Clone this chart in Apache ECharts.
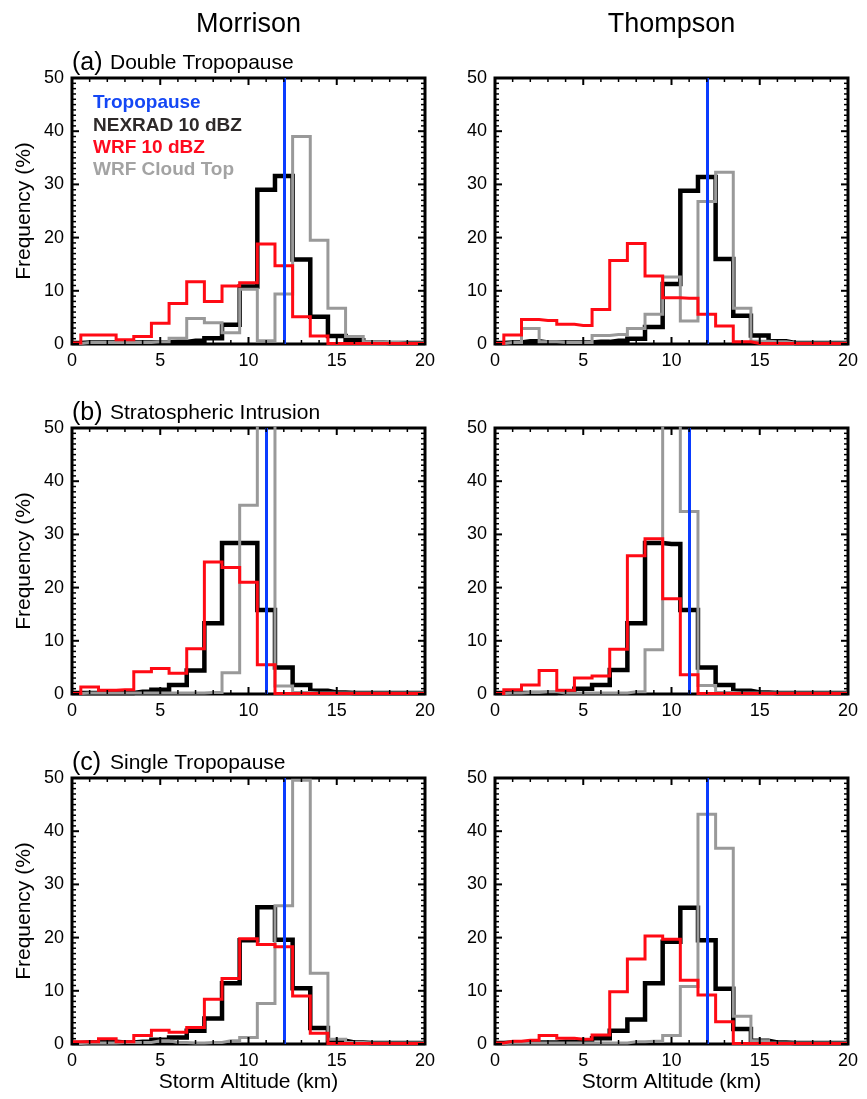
<!DOCTYPE html>
<html>
<head>
<meta charset="utf-8">
<script src="https://cdn.jsdelivr.net/npm/echarts@6/dist/echarts.min.js"></script>
<style>
  html, body { margin: 0; padding: 0; background: #fff; }
  #chart { width: 867px; height: 1099px; }
</style>
</head>
<body>
<div id="chart"></div>
<script>
// Altitude bin centres (km); each bin is 1 km wide
const altitudeBins = [0, 1, 2, 3, 4, 5, 6, 7, 8, 9, 10, 11, 12, 13, 14, 15, 16, 17, 18, 19, 20];
const xTickLabels = [0, 5, 10, 15, 20];
const yTickLabels = [0, 10, 20, 30, 40, 50];
// Tick marks on the frame (minor every 1 unit, major where a label sits)
const xTickMarks = [0, 1, 2, 3, 4, 5, 6, 7, 8, 9, 10, 11, 12, 13, 14, 15, 16, 17, 18, 19, 20];
const yTickMarks = [0, 1, 2, 3, 4, 5, 6, 7, 8, 9, 10, 11, 12, 13, 14, 15, 16, 17, 18, 19, 20,
                    21, 22, 23, 24, 25, 26, 27, 28, 29, 30, 31, 32, 33, 34, 35, 36, 37, 38, 39, 40,
                    41, 42, 43, 44, 45, 46, 47, 48, 49, 50];

const schemes = ['Morrison', 'Thompson'];
const regimeTags = ['(a)', '(b)', '(c)'];
const regimes = ['Double Tropopause', 'Stratospheric Intrusion', 'Single Tropopause'];
const seriesNames = ['Tropopause', 'NEXRAD 10 dBZ', 'WRF 10 dBZ', 'WRF Cloud Top'];

// Tropopause altitude (km) per regime
const tropopause = [12, 11, 12];

// (a) Double Tropopause
const nexradDoubleMorrison = [0.2, 0.3, 0.3, 0.3, 0.3, 0.3, 0.4, 0.6, 1.1, 3.6, 10.8, 29.0, 31.6, 15.9, 5.1, 1.5, 0.7, 0.3, 0.2, 0.2, 0.2];
const wrfDoubleMorrison    = [0.2, 1.7, 1.7, 0.8, 1.4, 3.9, 7.6, 11.7, 8.0, 10.9, 11.5, 18.8, 14.7, 5.1, 1.5, 0.1, 0.1, 0.1, 0.1, 0.1, 0.1];
const cloudDoubleMorrison  = [0.1, 0.3, 0.3, 0.3, 0.3, 0.4, 1.1, 4.8, 4.0, 2.1, 10.3, 0.6, 9.4, 39.0, 19.5, 6.7, 1.4, 0.4, 0.3, 0.2, 0.2];

const nexradDoubleThompson = [0.2, 0.3, 0.5, 0.3, 0.3, 0.3, 0.4, 0.6, 1.0, 3.2, 11.3, 28.8, 31.4, 16.0, 5.3, 1.6, 0.5, 0.2, 0.2, 0.2, 0.2];
const wrfDoubleThompson    = [0.1, 1.7, 4.6, 4.4, 3.7, 3.5, 6.5, 15.7, 18.9, 12.8, 8.7, 8.6, 5.6, 3.4, 0.4, 0.1, 0.1, 0.1, 0.1, 0.1, 0.1];
const cloudDoubleThompson  = [0.1, 0.3, 2.9, 0.4, 0.3, 0.3, 1.6, 1.8, 2.9, 5.6, 12.6, 4.3, 26.8, 32.3, 6.7, 0.5, 0.4, 0.2, 0.2, 0.2, 0.2];

// (b) Stratospheric Intrusion
const nexradIntrusionMorrison = [0.2, 0.2, 0.2, 0.2, 0.4, 0.8, 1.7, 4.4, 13.3, 28.4, 28.4, 15.8, 5.0, 1.7, 0.6, 0.3, 0.2, 0.2, 0.2, 0.2, 0.2];
const wrfIntrusionMorrison    = [0.1, 1.3, 0.7, 0.8, 4.2, 4.8, 3.9, 8.5, 24.8, 23.8, 21.0, 5.5, 0.1, 0.1, 0.1, 0.1, 0.1, 0.1, 0.1, 0.1, 0.1];
const cloudIntrusionMorrison  = [0.1, 0.2, 0.2, 0.2, 0.2, 0.2, 0.2, 0.2, 0.3, 4.0, 35.5, 56.0, 1.5, 0.3, 0.2, 0.2, 0.2, 0.2, 0.2, 0.2, 0.2];

const nexradIntrusionThompson = [0.2, 0.2, 0.2, 0.2, 0.4, 1.0, 1.7, 4.5, 13.3, 28.4, 28.2, 15.8, 5.0, 1.7, 0.6, 0.3, 0.2, 0.2, 0.2, 0.2, 0.2];
const wrfIntrusionThompson    = [0.1, 0.8, 1.7, 4.4, 0.7, 3.0, 3.4, 8.4, 26.0, 29.2, 17.9, 3.6, 0.1, 0.1, 0.1, 0.1, 0.1, 0.1, 0.1, 0.1, 0.1];
const cloudIntrusionThompson  = [0.1, 0.2, 0.3, 0.4, 0.2, 0.2, 0.2, 0.2, 0.4, 8.3, 58.0, 34.3, 1.6, 0.3, 0.2, 0.2, 0.2, 0.2, 0.2, 0.2, 0.2];

// (c) Single Tropopause
const nexradSingleMorrison = [0.2, 0.3, 0.4, 0.3, 0.4, 0.8, 1.2, 2.5, 4.8, 11.4, 19.5, 25.7, 19.6, 10.5, 3.0, 0.6, 0.3, 0.2, 0.2, 0.2, 0.2];
const wrfSingleMorrison    = [0.4, 0.4, 1.0, 0.4, 1.6, 2.6, 2.2, 3.1, 8.4, 12.3, 19.8, 18.7, 18.3, 9.0, 2.0, 0.1, 0.1, 0.1, 0.1, 0.1, 0.1];
const cloudSingleMorrison  = [0.1, 0.2, 0.2, 0.3, 0.3, 0.6, 0.3, 0.2, 0.3, 0.6, 1.2, 7.6, 26.0, 49.6, 13.3, 0.9, 0.3, 0.2, 0.2, 0.2, 0.2];

const nexradSingleThompson = [0.2, 0.3, 0.3, 0.3, 0.4, 0.6, 1.1, 2.5, 4.6, 11.4, 19.2, 25.6, 19.5, 10.4, 2.8, 0.6, 0.3, 0.2, 0.2, 0.2, 0.2];
const wrfSingleThompson    = [0.2, 0.5, 0.7, 1.6, 1.1, 0.9, 1.7, 9.8, 16.0, 20.3, 19.7, 12.0, 9.2, 4.2, 0.1, 0.1, 0.1, 0.1, 0.1, 0.1, 0.1];
const cloudSingleThompson  = [0.1, 0.2, 0.2, 0.2, 0.2, 0.2, 0.2, 0.2, 0.4, 0.5, 1.6, 10.8, 43.2, 36.8, 5.2, 0.6, 0.2, 0.2, 0.2, 0.2, 0.2];

// Panels in reading order: row = regime, column = microphysics scheme
const panels = [
  { row: 0, col: 0, nexrad: nexradDoubleMorrison, wrf: wrfDoubleMorrison, cloud: cloudDoubleMorrison },
  { row: 0, col: 1, nexrad: nexradDoubleThompson, wrf: wrfDoubleThompson, cloud: cloudDoubleThompson },
  { row: 1, col: 0, nexrad: nexradIntrusionMorrison, wrf: wrfIntrusionMorrison, cloud: cloudIntrusionMorrison },
  { row: 1, col: 1, nexrad: nexradIntrusionThompson, wrf: wrfIntrusionThompson, cloud: cloudIntrusionThompson },
  { row: 2, col: 0, nexrad: nexradSingleMorrison, wrf: wrfSingleMorrison, cloud: cloudSingleMorrison },
  { row: 2, col: 1, nexrad: nexradSingleThompson, wrf: wrfSingleThompson, cloud: cloudSingleThompson }
];

const FONT = '"Liberation Sans", Arial, Helvetica, sans-serif';
const COLORS = { trop: '#0a3cff', nexrad: '#000000', wrf: '#ff0a14', cloud: '#999999' };
const LEGEND_COLORS = ['#1447f5', '#2e2a2a', '#ff0a1e', '#a3a3a3'];

const gridLeft = [72, 495];
const gridTop = [78, 428, 778];
const gridW = 353, gridH = 266;
const X_MIN = 0, X_MAX = 20, Y_MIN = 0, Y_MAX = 50;
const MAJOR_LEN = 7, MINOR_LEN = 4;

const grids = [], xAxes = [], yAxes = [], series = [], graphics = [];

const labelStyle = () => ({ color: '#000', fontSize: 18, fontFamily: FONT });
const pairs = (vals) => altitudeBins.map((x, i) => [x, vals[i]]);

const tickSeg = (x1, y1, x2, y2, major) => ({
  type: 'line', shape: { x1, y1, x2, y2 },
  style: { stroke: '#000', lineWidth: major ? 2 : 1.5 }
});

panels.forEach((p, k) => {
  // The grid border forms the closed frame
  grids.push({
    left: gridLeft[p.col], top: gridTop[p.row], width: gridW, height: gridH,
    show: true, borderColor: '#000', borderWidth: 3, backgroundColor: 'transparent'
  });
  xAxes.push({
    type: 'value', gridIndex: k, min: X_MIN, max: X_MAX, interval: 5,
    axisLine: { show: false, onZero: false }, axisTick: { show: false }, splitLine: { show: false },
    axisLabel: Object.assign({ show: true, margin: 8, formatter: (v) => xTickLabels.includes(v) ? String(v) : '' }, labelStyle()),
    name: p.row === 2 ? 'Storm Altitude (km)' : '',
    nameLocation: 'middle', nameGap: 28,
    nameTextStyle: { color: '#000', fontSize: 21, fontFamily: FONT }
  });
  yAxes.push({
    type: 'value', gridIndex: k, min: Y_MIN, max: Y_MAX, interval: 10,
    axisLine: { show: false, onZero: false }, axisTick: { show: false }, splitLine: { show: false },
    axisLabel: Object.assign({ show: true, margin: 8, formatter: (v) => yTickLabels.includes(v) ? String(v) : '' }, labelStyle()),
    name: p.col === 0 ? 'Frequency (%)' : '',
    nameLocation: 'middle', nameGap: 37, nameRotate: 90,
    nameTextStyle: { color: '#000', fontSize: 21, fontFamily: FONT }
  });

  const step = (name, vals, color, width, z) => ({
    type: 'line', name, step: 'middle', xAxisIndex: k, yAxisIndex: k,
    data: pairs(vals), symbol: 'none', clip: true, z,
    lineStyle: { color, width, join: 'miter', cap: 'butt' }
  });
  series.push(step(seriesNames[1], p.nexrad, COLORS.nexrad, 4.5, 2));
  series.push(step(seriesNames[3], p.cloud, COLORS.cloud, 3, 3));
  series.push(step(seriesNames[2], p.wrf, COLORS.wrf, 3, 4));
  series.push({
    type: 'line', name: seriesNames[0], xAxisIndex: k, yAxisIndex: k, data: [], z: 5,
    markLine: {
      silent: true, symbol: ['none', 'none'], label: { show: false }, animation: false,
      lineStyle: { color: COLORS.trop, width: 3, type: 'solid' },
      data: [{ xAxis: tropopause[p.row] }]
    }
  });

  // Inward tick marks on bottom and top edges
  series.push({
    type: 'custom', xAxisIndex: k, yAxisIndex: k, silent: true, z: 6,
    data: xTickMarks.map((v) => [v, Y_MIN]),
    renderItem: (params, api) => {
      const v = api.value(0);
      const major = xTickLabels.includes(v);
      const len = major ? MAJOR_LEN : MINOR_LEN;
      const b = api.coord([v, Y_MIN]);
      const t = api.coord([v, Y_MAX]);
      return { type: 'group', children: [
        tickSeg(b[0], b[1], b[0], b[1] - len, major),
        tickSeg(t[0], t[1], t[0], t[1] + len, major)
      ] };
    }
  });
  // Inward tick marks on left and right edges
  series.push({
    type: 'custom', xAxisIndex: k, yAxisIndex: k, silent: true, z: 6,
    data: yTickMarks.map((v) => [X_MIN, v]),
    renderItem: (params, api) => {
      const v = api.value(1);
      const major = yTickLabels.includes(v);
      const len = major ? MAJOR_LEN : MINOR_LEN;
      const l = api.coord([X_MIN, v]);
      const r = api.coord([X_MAX, v]);
      return { type: 'group', children: [
        tickSeg(l[0], l[1], l[0] + len, l[1], major),
        tickSeg(r[0], r[1], r[0] - len, r[1], major)
      ] };
    }
  });
});

// Column headers
schemes.forEach((s, c) => {
  graphics.push({
    type: 'text', x: gridLeft[c] + gridW / 2, y: 25,
    style: { text: s, fill: '#000', font: '27px ' + FONT, align: 'center', verticalAlign: 'middle' }
  });
});

// Regime titles above the left column
regimes.forEach((r, i) => {
  const cy = gridTop[i] - 15;
  graphics.push({
    type: 'text', x: 72, y: cy,
    style: { text: regimeTags[i], fill: '#000', font: '25px ' + FONT, align: 'left', verticalAlign: 'middle' }
  });
  graphics.push({
    type: 'text', x: 110, y: cy,
    style: { text: r, fill: '#000', font: '21px ' + FONT, align: 'left', verticalAlign: 'middle' }
  });
});

// Legend inside the first panel
seriesNames.forEach((n, i) => {
  graphics.push({
    type: 'text', x: 93, y: 103 + i * 22.3,
    style: { text: n, fill: LEGEND_COLORS[i], font: 'bold 19px ' + FONT, align: 'left', verticalAlign: 'middle' }
  });
});

const chart = echarts.init(document.getElementById('chart'), null, { renderer: 'canvas' });
chart.setOption({
  animation: false,
  backgroundColor: '#fff',
  grid: grids,
  xAxis: xAxes,
  yAxis: yAxes,
  series: series,
  graphic: graphics
});
</script>
</body>
</html>
